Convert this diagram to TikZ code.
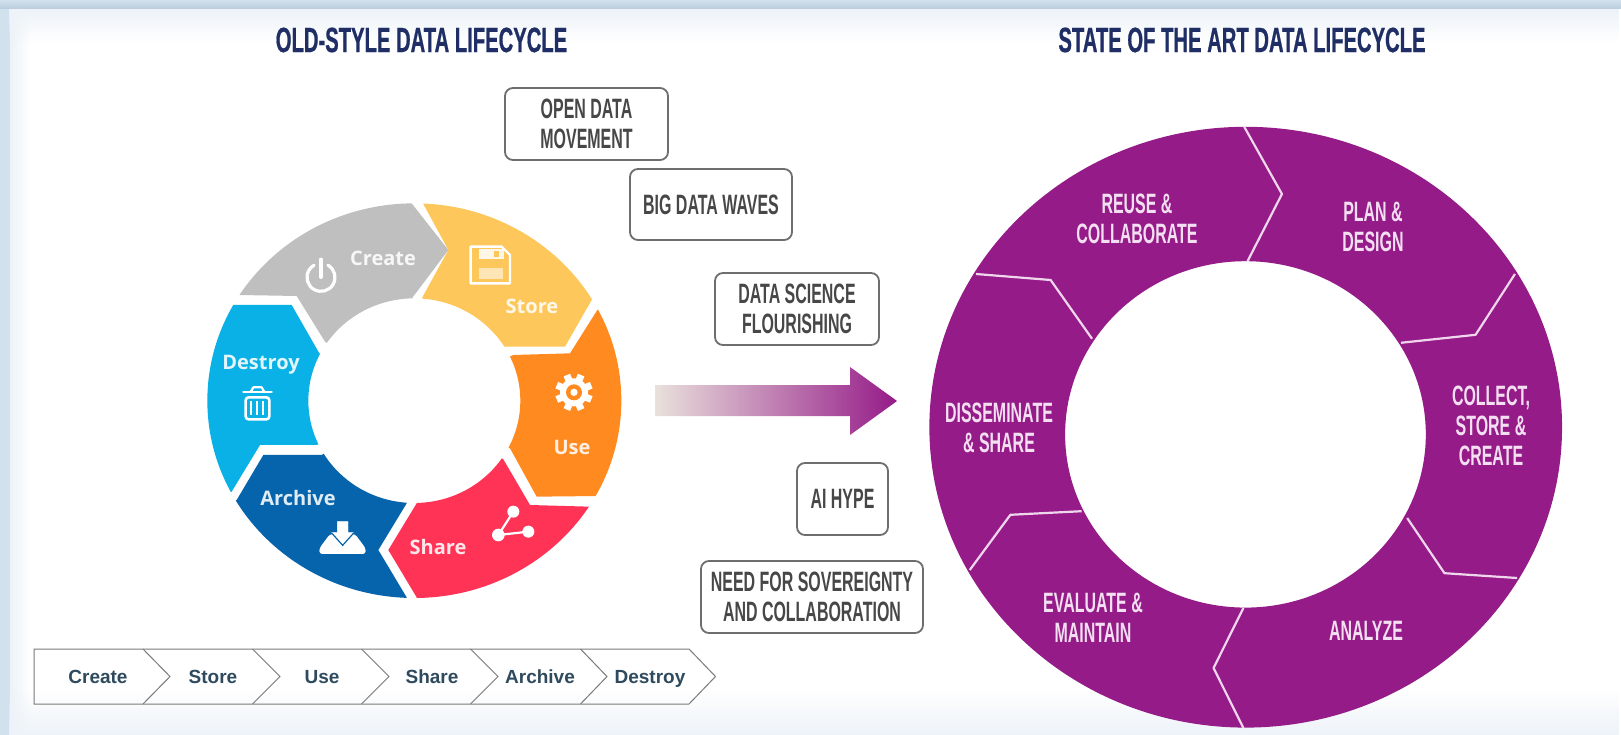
\documentclass[tikz,border=0pt]{standalone}
\usepackage{fontspec}
\usetikzlibrary{calc,fadings}
\setmainfont{Liberation Sans}
\newfontfamily\condf[FakeStretch=0.57]{Liberation Sans}
\newfontfamily\condt[FakeStretch=0.578,BoldFeatures={FakeBold=0.6}]{Liberation Sans}
\newfontfamily\ringf{Open Sans}
\definecolor{bandc}{HTML}{D2E1EE}
\definecolor{bandd}{HTML}{B9CCDC}
\definecolor{softb}{HTML}{EDF3F9}
\definecolor{titlec}{HTML}{1F2F66}
\definecolor{purp}{HTML}{951B88}
\definecolor{lav}{HTML}{F3DFF1}
\definecolor{sepc}{HTML}{EFD6EC}
\definecolor{boxl}{HTML}{6E6E6E}
\definecolor{boxt}{HTML}{474747}
\definecolor{stript}{HTML}{2E4A5E}
\definecolor{stripl}{HTML}{7A7A7A}
\definecolor{greyseg}{HTML}{BFBFBF}
\definecolor{yelseg}{HTML}{FDC75B}
\definecolor{orgseg}{HTML}{FF8A1F}
\definecolor{redseg}{HTML}{FF3355}
\definecolor{bluseg}{HTML}{0564AC}
\definecolor{cyaseg}{HTML}{0AB1E6}
\definecolor{arrowl}{HTML}{E9E1DC}
\tikzset{
  titletext/.style={text=titlec,font=\condt\bfseries\fontsize{35}{38}\selectfont,inner sep=0pt},
  eventbox/.style={draw=boxl,line width=1.8pt,rounded corners=8pt,fill=white,align=center,text=boxt,
    font=\condf\bfseries\fontsize{28}{30.5}\selectfont,inner sep=0pt},
  ringlabel/.style={text=lav,align=center,inner sep=0pt,font=\condf\bfseries\fontsize{28}{30}\selectfont},
  seglabel/.style={text=white,text opacity=.88,inner sep=0pt,text height=17pt,text depth=2pt,font=\ringf\bfseries\fontsize{20}{22}\selectfont},
  chev/.style={draw=stripl,line width=1pt,line join=miter},
  chevtext/.style={text=stript,inner sep=0pt,text height=14pt,text depth=0pt,font=\bfseries\fontsize{19}{21}\selectfont},
  sep/.style={draw=sepc,line width=2.2pt,line join=round},
  iconline/.style={draw=white,line width=3.2pt,line cap=round,line join=round}
}
\newcommand{\ringseg}[5]{%
  \begin{scope}
    \clip (C) -- #2 -- #3 -- ($(C)!2.4!#3$) -- ($(C)!2.4!#4$) -- #4 -- #5 -- cycle;
    \fill[#1,even odd rule] (C) ellipse [x radius=621,y radius=592] (C) ellipse [x radius=318,y radius=307];
  \end{scope}}
\begin{document}
\begin{tikzpicture}[x=1pt,y=-1pt]
\useasboundingbox (0,0) rectangle (1621,735);
% page and panel
\fill[bandc] (0,0) rectangle (1621,735);
\shade[top color=bandc,bottom color=bandd] (0,0) rectangle (1621,9);
\fill[white] (10,9) rectangle (1621,735);
\fill[softb,path fading=east] (10,9) rectangle (30,735);
\fill[softb,path fading=south] (10,9) rectangle (1621,42);
\fill[softb,path fading=north] (10,690) rectangle (1621,735);
% titles
\node[titletext] (oldtitle) at (421.5,40) {OLD-STYLE DATA LIFECYCLE};
\node[titletext] (newtitle) at (1242,40) {STATE OF THE ART DATA LIFECYCLE};
% left ring
\begin{scope}[shift={(190,190)},scale=0.33333]
  \coordinate (C) at (673,632);
  \ringseg{greyseg}{(405,455) -- (320,318)}{(150,315)}{(665,40)}{(775,180) -- (668,322)}
  \ringseg{yelseg}{(697,322) -- (775,180)}{(700,42)}{(1205,330)}{(1125,470) -- (945,470)}
  \ringseg{orgseg}{(970,495) -- (1140,490)}{(1222,360)}{(1225,918)}{(1040,920) -- (960,775)}
  \ringseg{redseg}{(940,808) -- (1020,945)}{(1197,950)}{(680,1222)}{(595,1080) -- (680,940)}
  \ringseg{bluseg}{(650,940) -- (565,1080)}{(650,1222)}{(140,930)}{(220,795) -- (395,795)}
  \ringseg{cyaseg}{(380,765) -- (210,765)}{(125,905)}{(130,345)}{(305,345) -- (388,490)}
  % power icon
  \draw[iconline] (393,262) ++(-60:42) arc (-60:240:42);
  \draw[iconline] (393,208) -- (393,262);
  % floppy icon
  \draw[iconline,line width=2.4pt] (842,170) -- (935,170) -- (960,195) -- (960,280) -- (842,280) -- cycle;
  \fill[white,opacity=.85] (868,178) rectangle (942,208);
  \fill[yelseg] (912,184) rectangle (926,202);
  \fill[white,opacity=.55] (868,235) rectangle (940,268);
  % gear icon
  \foreach \a in {0,45,...,315} {\draw[white,line width=7pt] (1152,607) -- ++(\a+22.5:56);}
  \fill[white] (1152,607) circle [radius=42];
  \fill[orgseg] (1152,607) circle [radius=24];
  \fill[white] (1152,607) circle [radius=11];
  % share icon
  \draw[iconline,line width=2.2pt] (970,965) -- (925,1035) -- (1015,1025);
  \fill[white] (970,965) circle [radius=18] (925,1035) circle [radius=19] (1015,1025) circle [radius=18];
  % archive icon
  \fill[white,rounded corners=3pt] (420,1032) -- (388,1075) -- (388,1092) -- (527,1092) -- (527,1075) -- (495,1032) -- cycle;
  \draw[white,fill=white,line join=miter] (442,995) -- (474,995) -- (474,1028) -- (492,1028) -- (458,1064) -- (424,1028) -- (442,1028) -- cycle;
  \draw[bluseg,line width=1.2pt] (424,1028) -- (458,1066) -- (492,1028);
  \draw[bluseg,line width=1.2pt] (415,1032) -- (424,1028) (492,1028) -- (500,1032);
  % trash icon
  \draw[iconline,line width=2.6pt] (160,606) -- (245,606);
  \draw[iconline,line width=2.2pt] (183,604) -- (190,592) -- (215,592) -- (222,604);
  \draw[iconline,line width=2.6pt,rounded corners=3pt] (167,622) -- (167,688) -- (238,688) -- (238,622) -- cycle;
  \draw[white,line width=1.8pt] (184,632) -- (184,676) (202,632) -- (202,676) (220,632) -- (220,676);
\end{scope}
\node[seglabel] (lcreate) at (383,258) {Create};
\node[seglabel] (lstore) at (532,306) {Store};
\node[seglabel] (luse) at (572,447) {Use};
\node[seglabel] (lshare) at (438,547) {Share};
\node[seglabel] (larchive) at (298,498) {Archive};
\node[seglabel] (ldestroy) at (261,362) {Destroy};
% gradient arrow
\shade[left color=arrowl,right color=purp] (655,385) -- (850,385) -- (850,367) -- (897,401) -- (850,435) -- (850,416) -- (655,416) -- cycle;
% event boxes
\node[eventbox,minimum width=163pt,minimum height=72pt] (bopen) at (586.5,124) {OPEN DATA\\MOVEMENT};
\node[eventbox,minimum width=162pt,minimum height=71pt] (bbig) at (711,204.5) {BIG DATA WAVES};
\node[eventbox,minimum width=164pt,minimum height=72pt] (bsci) at (797,309) {DATA SCIENCE\\FLOURISHING};
\node[eventbox,minimum width=91pt,minimum height=72pt] (bai) at (842.5,499) {AI HYPE};
\node[eventbox,minimum width=222pt,minimum height=72pt] (bneed) at (812,597) {NEED FOR SOVEREIGNTY\\AND COLLABORATION};
% right ring
\begin{scope}[shift={(920,110)},xscale=0.41459,yscale=0.4]
  \fill[purp,even odd rule] (785.6,793) ellipse [x radius=763,y radius=751] (785,811) ellipse [x radius=435,y radius=433];
  \draw[sep] (782,42) -- (873,210) -- (790,378);
  \draw[sep] (135,410) -- (315,425) -- (415,572);
  \draw[sep] (1435,410) -- (1340,562) -- (1160,582);
  \draw[sep] (1175,1020) -- (1265,1158) -- (1440,1170);
  \draw[sep] (780,1245) -- (708,1395) -- (780,1545);
  \draw[sep] (120,1150) -- (218,1012) -- (390,1003);
\end{scope}
\node[ringlabel] (rreuse) at (1137,218.5) {REUSE \&\\COLLABORATE};
\node[ringlabel] (rplan) at (1373,227) {PLAN \&\\DESIGN};
\node[ringlabel] (rcollect) at (1491,426) {COLLECT,\\STORE \&\\CREATE};
\node[ringlabel] (rdiss) at (999,427.5) {DISSEMINATE\\\& SHARE};
\node[ringlabel] (reval) at (1093,618) {EVALUATE \&\\MAINTAIN};
\node[ringlabel] (ranalyze) at (1366,631) {ANALYZE};
% chevron strip
\draw[chev] (34,649) -- (143,649) -- (170,676.5) -- (143,704) -- (34,704) -- cycle;
\draw[chev] (143,649) -- (252.5,649) -- (280,676.5) -- (252.5,704) -- (143,704);
\draw[chev] (252.5,649) -- (361.5,649) -- (389,676.5) -- (361.5,704) -- (252.5,704);
\draw[chev] (361.5,649) -- (470.5,649) -- (498,676.5) -- (470.5,704) -- (361.5,704);
\draw[chev] (470.5,649) -- (580.5,649) -- (607,676.5) -- (580.5,704) -- (470.5,704);
\draw[chev] (580.5,649) -- (689,649) -- (715.5,676.5) -- (689,704) -- (580.5,704);
\node[chevtext] (screate) at (98,676.5) {Create};
\node[chevtext] (sstore) at (213,676.5) {Store};
\node[chevtext] (suse) at (322,676.5) {Use};
\node[chevtext] (sshare) at (432,676.5) {Share};
\node[chevtext] (sarchive) at (540,676.5) {Archive};
\node[chevtext] (sdestroy) at (650,676.5) {Destroy};
\end{tikzpicture}
\end{document}
